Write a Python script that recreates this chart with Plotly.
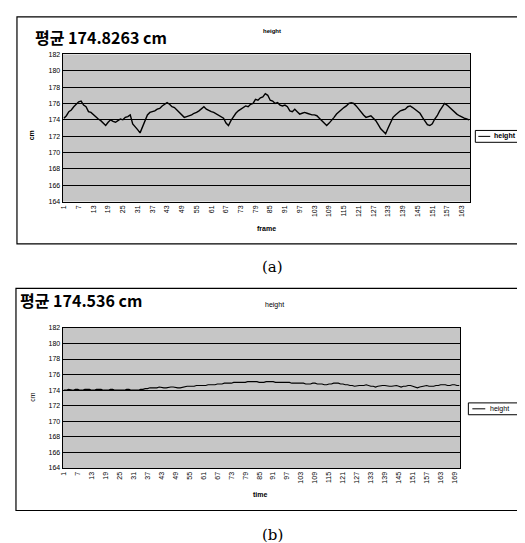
import plotly.graph_objects as go

# ---------------- data ----------------
title_a = "평균 174.8263 cm"
title_b = "평균 174.536 cm"
series_name = "height"
y_ticks = [164, 166, 168, 170, 172, 174, 176, 178, 180, 182]

height_a = [
    174.2, 174.5, 175.0, 175.2, 175.6, 175.9, 176.2, 176.3, 175.8, 175.6,
    175.0, 174.9, 174.6, 174.4, 174.1, 173.9, 173.6, 173.3, 173.7, 174.0,
    173.8, 173.7, 173.9, 174.1, 174.0, 174.3, 174.4, 174.6, 173.5, 173.2,
    172.8, 172.4, 173.2, 173.9, 174.6, 174.9, 175.0, 175.1, 175.3, 175.4,
    175.7, 175.9, 176.1, 175.9, 175.6, 175.5, 175.2, 175.0, 174.6, 174.3,
    174.4, 174.5, 174.6, 174.8, 174.9, 175.1, 175.4, 175.6, 175.3, 175.1,
    175.0, 174.9, 174.7, 174.6, 174.4, 174.2, 173.6, 173.3, 173.9, 174.4,
    174.8, 175.1, 175.3, 175.5, 175.7, 175.6, 175.9, 176.0, 176.5, 176.4,
    176.7, 176.8, 177.2, 177.0, 176.4, 176.3, 176.0, 176.1, 175.8, 175.7,
    175.8, 175.6, 175.1, 175.0, 175.3, 175.0, 174.7, 174.8, 174.9, 174.8,
    174.7, 174.6, 174.6, 174.5, 174.2, 173.9, 173.6, 173.3, 173.6, 173.9,
    174.3, 174.7, 175.0, 175.2, 175.5, 175.7, 176.0, 176.1, 176.0, 175.7,
    175.3, 174.9, 174.6, 174.3, 174.4, 174.5, 174.2, 173.9, 173.4, 172.9,
    172.6, 172.3, 173.0, 173.6, 174.3, 174.6, 174.9, 175.1, 175.2, 175.3,
    175.6, 175.7, 175.5, 175.3, 175.1, 174.8, 174.3, 173.9, 173.4, 173.3,
    173.5, 174.1, 174.5, 175.1, 175.6, 176.0, 175.8, 175.5, 175.2, 174.9,
    174.7, 174.5, 174.3, 174.2, 174.1, 174.0,
]
frames_a = list(range(1, len(height_a) + 1))
x_ticks_a = list(range(1, 164, 6))

height_b = [
    174.0, 174.0, 174.1, 174.0, 174.0, 174.1, 174.1, 174.0, 174.0, 174.1,
    174.1, 174.1, 174.0, 174.0, 174.1, 174.1, 174.1, 174.0, 174.0, 174.0,
    174.1, 174.1, 174.0, 174.0, 174.0, 174.0, 174.0, 174.1, 174.1, 174.0,
    174.0, 174.0, 174.0, 174.1, 174.1, 174.2, 174.2, 174.3, 174.3, 174.3,
    174.3, 174.4, 174.3, 174.3, 174.3, 174.4, 174.4, 174.4, 174.3, 174.3,
    174.3, 174.4, 174.4, 174.5, 174.5, 174.5, 174.5, 174.6, 174.6, 174.6,
    174.6, 174.6, 174.7, 174.7, 174.7, 174.7, 174.8, 174.8, 174.8, 174.9,
    174.9, 174.9, 174.9, 175.0, 175.0, 175.0, 175.0, 175.0, 175.0, 175.1,
    175.1, 175.1, 175.1, 175.1, 175.0, 175.0, 175.0, 175.1, 175.1, 175.1,
    175.1, 175.0, 175.0, 175.0, 175.0, 175.0, 175.0, 175.0, 174.9, 174.9,
    174.9, 174.9, 174.9, 174.9, 174.8, 174.8, 174.8, 174.9, 174.9, 174.8,
    174.8, 174.8, 174.7, 174.7, 174.8, 174.8, 174.9, 174.9, 174.9, 174.8,
    174.8, 174.7, 174.7, 174.6, 174.6, 174.5, 174.6, 174.6, 174.6, 174.6,
    174.7, 174.6, 174.5, 174.5, 174.4, 174.5, 174.6, 174.6, 174.6, 174.5,
    174.5, 174.5, 174.6, 174.6, 174.5, 174.4, 174.5, 174.5, 174.6, 174.6,
    174.5, 174.4, 174.3, 174.4, 174.5, 174.6, 174.6, 174.5, 174.5, 174.5,
    174.6, 174.6, 174.7, 174.7, 174.7, 174.6, 174.6, 174.7, 174.7, 174.6,
    174.6,
]
times_b = list(range(1, len(height_b) + 1))
x_ticks_b = list(range(1, 170, 6))

# ---------------- figure ----------------
W, H = 525, 543
def px(x): return x / W
def py(y): return 1 - y / H

SANS = "Liberation Sans, Arial, sans-serif"
KR = "Noto Sans CJK KR, sans-serif"
BG = "#c6c6c6"

fig = go.Figure()
fig.add_trace(go.Scatter(x=frames_a, y=height_a, mode="lines", name=series_name,
                         line=dict(color="black", width=1.4),
                         xaxis="x", yaxis="y", showlegend=False))
fig.add_trace(go.Scatter(x=times_b, y=height_b, mode="lines", name=series_name,
                         line=dict(color="black", width=1.1),
                         xaxis="x2", yaxis="y2", showlegend=False))

common_y = dict(range=[164, 182], tickvals=y_ticks, showgrid=True,
                gridcolor="black", gridwidth=1.4, showline=True, linecolor="black",
                linewidth=1.2, mirror=True, ticks="", zeroline=False,
                tickfont=dict(family=SANS, size=7, color="black"))
common_x = dict(showgrid=False, showline=True, linecolor="black", linewidth=1.2,
                mirror=True, ticks="", zeroline=False, tickangle=-90,
                tickfont=dict(family=SANS, size=7, color="black"))

fig.update_layout(
    width=W, height=H, margin=dict(l=0, r=0, t=0, b=0),
    paper_bgcolor="white", plot_bgcolor=BG, showlegend=False,
    xaxis=dict(domain=[px(52), px(462)], anchor="y", range=[0.5, len(height_a) + 0.5],
               tickvals=x_ticks_a, **common_x),
    yaxis=dict(domain=[py(192), py(43)], anchor="x", **common_y),
    xaxis2=dict(domain=[px(52), px(452)], anchor="y2", range=[0.5, len(height_b) + 0.5],
                tickvals=x_ticks_b, **common_x),
    yaxis2=dict(domain=[py(462), py(320)], anchor="x2", **common_y),
)

def rect(x0, y0, x1, y1, w=1.2):
    fig.add_shape(type="rect", xref="paper", yref="paper", x0=px(x0), x1=px(x1),
                  y0=py(y1), y1=py(y0), line=dict(color="black", width=w))

def hline(x0, x1, y, w=1.2):
    fig.add_shape(type="line", xref="paper", yref="paper", x0=px(x0), x1=px(x1),
                  y0=py(y), y1=py(y), line=dict(color="black", width=w))

# outer chart frames
rect(6, 5, 520, 235)
rect(5, 280, 521, 505)

def ann(text, x, y, size, family=SANS, bold=False, angle=0, xanchor="center"):
    t = f"<b>{text}</b>" if bold else text
    fig.add_annotation(text=t, x=px(x), y=py(y), xref="paper", yref="paper",
                       showarrow=False, xanchor=xanchor, yanchor="middle",
                       textangle=angle, font=dict(family=family, size=size, color="black"))

# legends (drawn boxes)
rect(467, 120, 517, 132, w=1)
hline(470, 482, 126, w=1)
ann(series_name, 484, 126, 7, bold=True, xanchor="left")
rect(460, 396, 516, 408, w=1)
hline(464, 477, 402, w=1)
ann(series_name, 480, 402, 7, xanchor="left")

# chart (a) texts
ann(title_a, 22, 25, 16, family=KR, bold=True, xanchor="left")
ann(series_name, 262, 19, 6, bold=True)
ann("cm", 21, 125, 7, bold=True, angle=-90)
ann("frame", 257, 219, 7, bold=True)
ann("(a)", 263, 258, 15, family="DejaVu Serif, serif")

# chart (b) texts
ann(title_b, 7, 292, 16, family=KR, bold=True, xanchor="left")
ann(series_name, 265, 297, 7)
ann("cm", 22, 390, 7, angle=-90)
ann("time", 251, 489, 7, bold=True)
ann("(b)", 263, 530, 15, family="DejaVu Serif, serif")

fig.write_html("out.html")
